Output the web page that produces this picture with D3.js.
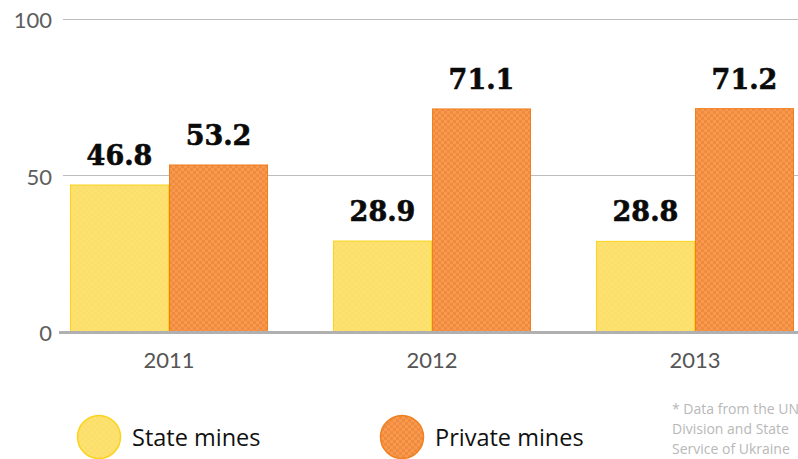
<!DOCTYPE html>
<html>
<head>
<meta charset="utf-8">
<script src="https://cdn.jsdelivr.net/npm/d3@7"></script>
<style>
  html, body { margin: 0; padding: 0; background: #fff; }
  svg { display: block; }
</style>
</head>
<body>
<svg id="chart" width="798" height="459"></svg>
<script>
// Coal output share by mine ownership, %
const years = ["2011", "2012", "2013"];
const stateMines = [46.8, 28.9, 28.8];
const privateMines = [53.2, 71.1, 71.2];
const seriesNames = ["State mines", "Private mines"];
const yTicks = [0, 50, 100];
const footnote = [
  "* Data from the UN",
  "Division and State",
  "Service of Ukraine"
];

const svg = d3.select("#chart");
const W = 798, H = 459;

// checkered fills used by the bars and the legend swatches
const defs = svg.append("defs");
function checker(id, base, alt) {
  const p = defs.append("pattern")
    .attr("id", id).attr("patternUnits", "userSpaceOnUse")
    .attr("width", 6).attr("height", 6);
  p.append("rect").attr("width", 6).attr("height", 6).attr("fill", base);
  p.append("rect").attr("width", 3).attr("height", 3).attr("fill", alt);
  p.append("rect").attr("x", 3).attr("y", 3).attr("width", 3).attr("height", 3).attr("fill", alt);
}
checker("patState", "#fde171", "#fcde6b");
checker("patPrivate", "#f79a4e", "#f08a3e");

const colors = {
  fill: ["url(#patState)", "url(#patPrivate)"],
  stroke: ["#fbd31c", "#f07f1e"]
};

const y = d3.scaleLinear().domain([0, 100]).range([331.5, 18.5]);
const x0 = d3.scaleBand().domain(years).range([70, 794]).paddingInner(0.247).paddingOuter(0);
const x1 = d3.scaleBand().domain([0, 1]).range([0, x0.bandwidth()]).padding(0);

// horizontal gridlines
svg.append("g").selectAll("line")
  .data(yTicks.filter(d => d !== 0))
  .join("line")
  .attr("x1", 63).attr("x2", W)
  .attr("y1", d => Math.round(y(d)) + 0.5).attr("y2", d => Math.round(y(d)) + 0.5)
  .attr("stroke", "#bdbdbd").attr("stroke-width", 1);

// y tick labels
svg.append("g").selectAll("text")
  .data(yTicks)
  .join("text")
  .attr("x", 52)
  .attr("y", d => y(d) + 1)
  .attr("text-anchor", "end")
  .attr("dominant-baseline", "central")
  .attr("font-family", "Lato, 'Open Sans', sans-serif")
  .attr("font-size", 22)
  .attr("fill", "#5e5e5e")
  .text(d => d);

// bars
const rows = years.map((yr, i) => ({ year: yr, values: [stateMines[i], privateMines[i]] }));
const groups = svg.append("g").selectAll("g")
  .data(rows)
  .join("g")
  .attr("transform", d => `translate(${x0(d.year)},0)`);

groups.selectAll("rect")
  .data(d => d.values.map((v, k) => ({ k, v })))
  .join("rect")
  .attr("x", d => x1(d.k) + 0.5)
  .attr("y", d => y(d.v))
  .attr("width", x1.bandwidth() - 1)
  .attr("height", d => y(0) - y(d.v))
  .attr("fill", d => colors.fill[d.k])
  .attr("stroke", d => colors.stroke[d.k])
  .attr("stroke-width", 1);

// value labels above bars
groups.selectAll("text")
  .data(d => d.values.map((v, k) => ({ k, v })))
  .join("text")
  .attr("x", d => x1(d.k) + x1.bandwidth() / 2)
  .attr("y", d => y(d.v) - 20)
  .attr("text-anchor", "middle")
  .attr("font-family", "'DejaVu Serif', serif")
  .attr("font-weight", "bold")
  .attr("font-size", 27)
  .attr("stroke", "#0a0a0a")
  .attr("stroke-width", 0.6)
  .attr("fill", "#0a0a0a")
  .text(d => d.v.toFixed(1));

// baseline
svg.append("line")
  .attr("x1", 59).attr("x2", W)
  .attr("y1", y(0) + 1).attr("y2", y(0) + 1)
  .attr("stroke", "#b0b0b0").attr("stroke-width", 3);

// year labels
svg.append("g").selectAll("text")
  .data(years)
  .join("text")
  .attr("x", d => x0(d) + x0.bandwidth() / 2)
  .attr("y", 368)
  .attr("text-anchor", "middle")
  .attr("font-family", "Lato, 'Open Sans', sans-serif")
  .attr("font-size", 22)
  .attr("fill", "#555")
  .text(d => d);

// legend
const legendX = [99, 402];
const legend = svg.append("g").selectAll("g")
  .data(seriesNames)
  .join("g")
  .attr("transform", (d, i) => `translate(${legendX[i]},437)`);
legend.append("circle")
  .attr("r", 21.5)
  .attr("fill", (d, i) => colors.fill[i])
  .attr("stroke", (d, i) => colors.stroke[i])
  .attr("stroke-width", 1.5);
legend.append("text")
  .attr("x", 33)
  .attr("y", 9)
  .attr("font-family", "'Open Sans', sans-serif")
  .attr("font-size", 23.5)
  .attr("fill", "#111")
  .text(d => d);

// source note
svg.append("g").selectAll("text")
  .data(footnote)
  .join("text")
  .attr("x", 672)
  .attr("y", (d, i) => 414 + i * 20)
  .attr("font-family", "'Open Sans', sans-serif")
  .attr("font-size", 14)
  .attr("fill", "#b8b8b8")
  .text(d => d);
</script>
</body>
</html>
